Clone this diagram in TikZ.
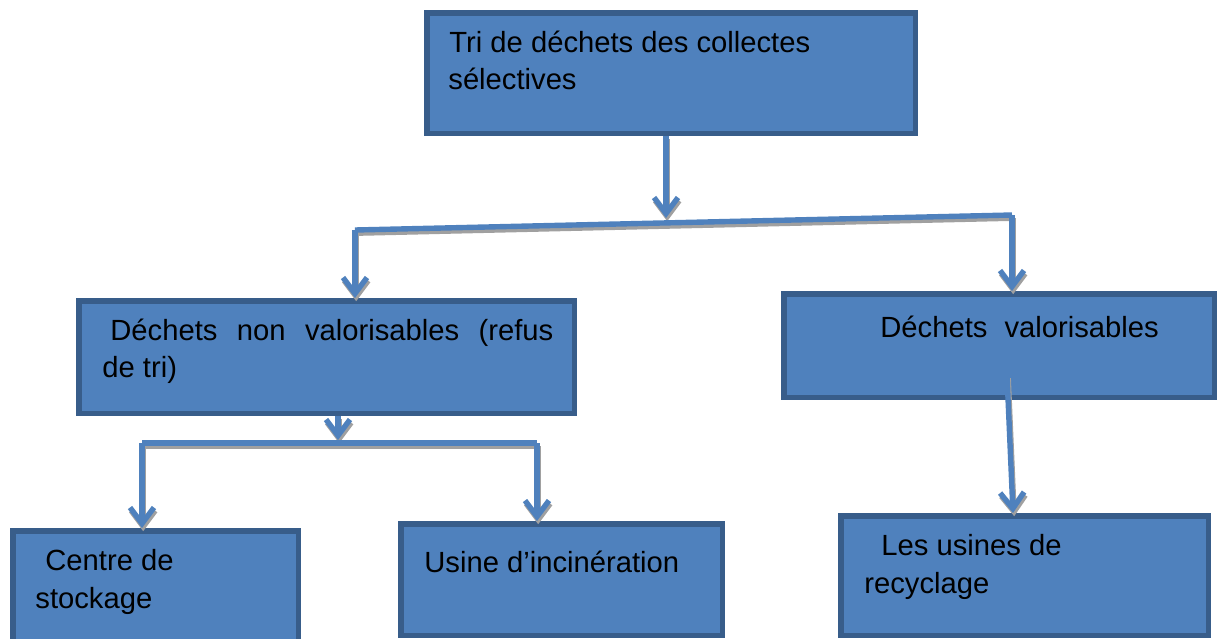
\documentclass[tikz,border=0pt]{standalone}
\usepackage{fontspec}
\setmainfont{Liberation Sans}
\usetikzlibrary{arrows.meta}
\definecolor{boxfill}{HTML}{4F81BD}
\definecolor{boxline}{HTML}{385D8A}
\definecolor{linkcol}{HTML}{4F81BD}
\definecolor{shadcol}{HTML}{A0A0A0}
\tikzset{
  box/.style={draw=boxline, fill=boxfill, line width=2.75pt, inner sep=0pt, rectangle},
  txt/.style={inner sep=0pt, anchor=base west, font=\fontsize{14.6}{18}\selectfont, text=black},
  link/.style={draw=linkcol, line width=2.7pt, line join=miter},
  tip/.style={-{Straight Barb[length=8pt,width=12pt]}},
  shad/.style={draw=shadcol, line width=2.7pt, transform canvas={shift={(0.6pt,-1.6pt)}}}
}
\newcommand\conndraw[2]{\draw[shad,#1]#2;\draw[link,#1]#2;}
\begin{document}
\begin{tikzpicture}[x=0.5pt,y=-0.5pt]
\useasboundingbox (0,0) rectangle (1221,638);
% boxes
\node[box, minimum width=244.25pt, minimum height=60.25pt] (top) at (671,73) {};
\node[box, minimum width=247.75pt, minimum height=56.25pt] (lm) at (326.5,357) {};
\node[box, minimum width=215.25pt, minimum height=51.75pt] (rm) at (999,345.5) {};
\node[box, minimum width=142.75pt, minimum height=58.25pt] (bl) at (155.5,589) {};
\node[box, minimum width=160.75pt, minimum height=55.75pt] (bm) at (561.5,579.5) {};
\node[box, minimum width=183.75pt, minimum height=59.75pt] (br) at (1024.5,575.5) {};
% texts
\node[txt] (t1a) at (449,52) {Tri de déchets des collectes};
\node[txt] (t1b) at (448,89) {sélectives};
\node[txt] (t2a) at (110,340) {\makebox[221.5pt][s]{Déchets non valorisables (refus}};
\node[txt] (t2b) at (102,377) {de tri)};
\node[txt] (t3) at (880,337) {Déchets\hspace{8.5pt}valorisables};
\node[txt] (t4a) at (45,570) {Centre de};
\node[txt] (t4b) at (35,608) {stockage};
\node[txt] (t5) at (424,572) {Usine d’incinération};
\node[txt] (t6a) at (881,555) {Les usines de};
\node[txt] (t6b) at (864,593) {recyclage};
% junction coordinates
\coordinate (j1) at (666,218);
\coordinate (hl) at (355,230);
\coordinate (hr) at (1012,215);
\coordinate (j2) at (338,440);
\coordinate (h2l) at (142,443);
\coordinate (h2r) at (537,443);
\coordinate (rs) at (1007,375);
\coordinate (re) at (1013,513);
% connectors
\conndraw{tip}{(top.south -| j1) -- (j1)}
\conndraw{}{(hl) -- (hr)}
\conndraw{tip}{(hl) -- (lm.north -| hl)}
\conndraw{tip}{(hr) -- (rm.north -| hr)}
\conndraw{tip}{(lm.south -| j2) -- (j2)}
\conndraw{}{(h2l) -- (h2r)}
\conndraw{tip}{(h2l) -- (bl.north -| h2l)}
\conndraw{tip}{(h2r) -- (bm.north -| h2r)}
\conndraw{tip}{(rs) -- (re)}
\end{tikzpicture}
\end{document}
